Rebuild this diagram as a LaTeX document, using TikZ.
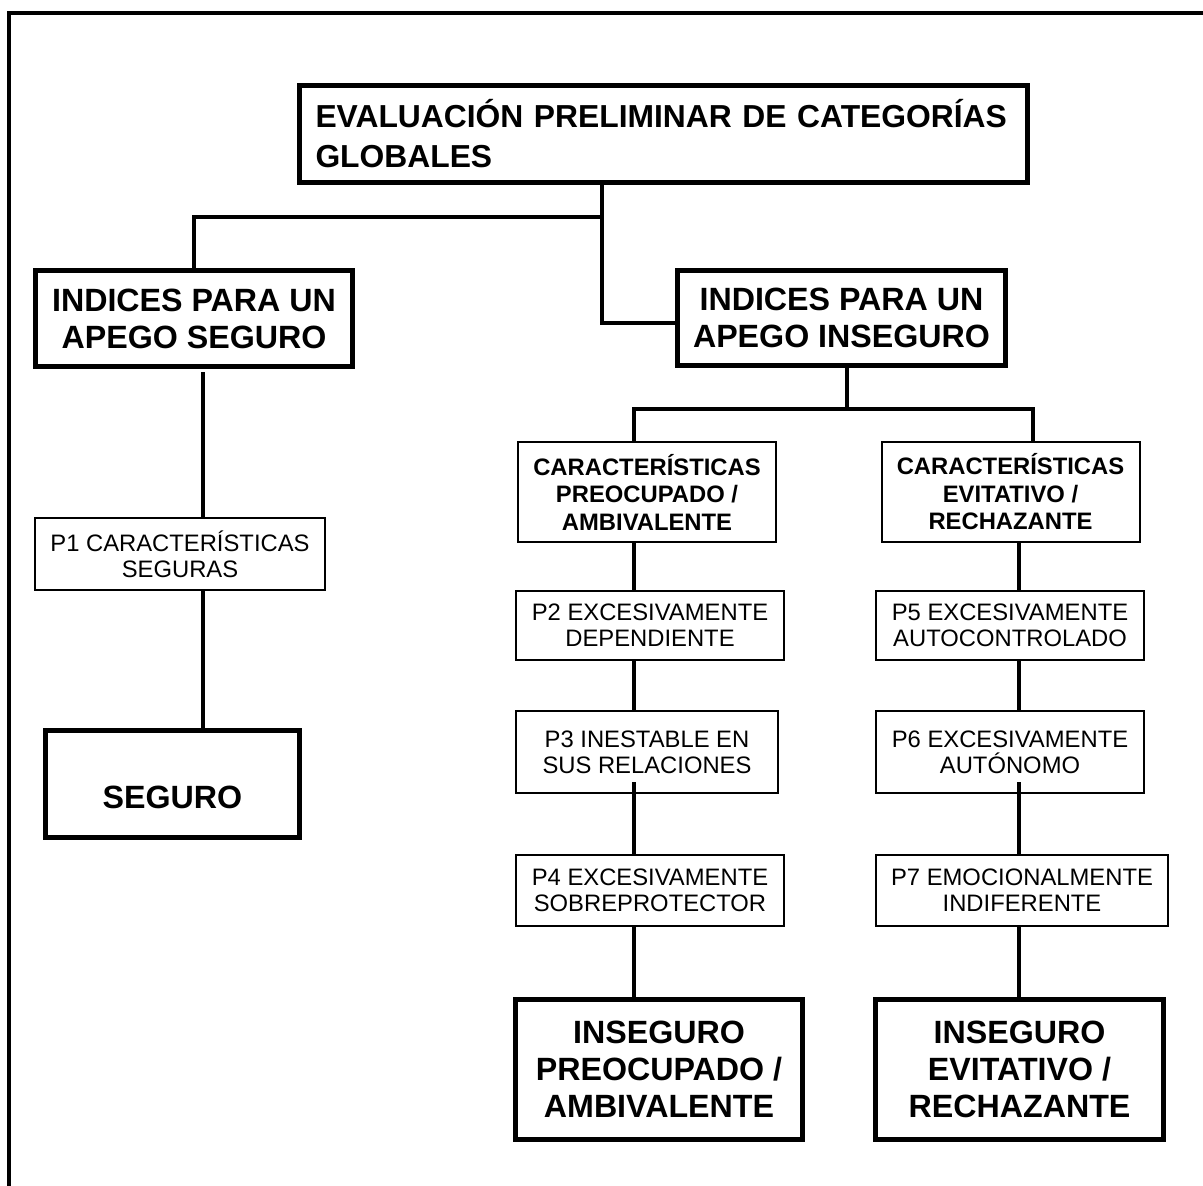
\documentclass[tikz,border=0pt]{standalone}
\usepackage{fontspec}
\setmainfont{Liberation Sans}
\usepackage{tikz}
\newcommand{\bigboxfont}{\bfseries\fontsize{16.1}{18.5}\selectfont}
\newcommand{\midboxfont}{\bfseries\fontsize{11.9}{13.75}\selectfont}
\newcommand{\smallboxfont}{\fontsize{11.9}{13}\selectfont}
\tikzset{
    every node/.style={rectangle, draw, inner sep=0pt, outer sep=0pt, align=center}
}
\tikzset{
    heavy/.style={line width=2.5pt, font=\bigboxfont},
    medium/.style={line width=1pt, font=\midboxfont},
    light/.style={line width=1pt, font=\smallboxfont}
}

\begin{document}
\begin{tikzpicture}[x=0.5pt, y=-0.5pt, line width=2pt]
	\useasboundingbox (0,0) rectangle (1203,1186);
	\draw (9,1186) -- (9,12.7) -- (1203,12.7);

	\node (top) [heavy, minimum height=48.5pt, text width=348pt, inner xsep=8pt, align=left,
		font=\bfseries\fontsize{15.9}{20}\selectfont] at (663.5, 134) {EVALUACIÓN PRELIMINAR DE CATEGORÍAS\\GLOBALES};
	\node (idxS) [heavy, minimum width=158.5pt, minimum height=48pt] at (194, 318.5) {INDICES PARA UN\\APEGO SEGURO};
	\node (idxI) [heavy, minimum width=164pt, minimum height=47.5pt] at (841.5, 318) {INDICES PARA UN\\APEGO INSEGURO};
	\node (carL) [medium, minimum width=129pt, minimum height=50pt] at (647, 492) {CARACTERÍSTICAS\\PREOCUPADO /\\AMBIVALENTE};
	\node (carR) [medium, minimum width=129pt, minimum height=50pt] at (1010.5, 492) {CARACTERÍSTICAS\\EVITATIVO /\\RECHAZANTE};
	\node (p1) [light, minimum width=145pt, minimum height=36pt] at (180, 554) {P1 CARACTERÍSTICAS\\SEGURAS};
	\node (p2) [light, minimum width=134pt, minimum height=34.5pt] at (650, 625.5) {P2 EXCESIVAMENTE\\DEPENDIENTE};
	\node (p3) [light, minimum width=131pt, minimum height=41pt] at (647, 752) {P3 INESTABLE EN\\SUS RELACIONES};
	\node (p4) [light, minimum width=134pt, minimum height=35.5pt] at (650, 890.5) {P4 EXCESIVAMENTE\\SOBREPROTECTOR};
	\node (p5) [light, minimum width=134pt, minimum height=34.5pt] at (1010, 625.5) {P5 EXCESIVAMENTE\\AUTOCONTROLADO};
	\node (p6) [light, minimum width=134pt, minimum height=41pt] at (1010, 752) {P6 EXCESIVAMENTE\\AUTÓNOMO};
	\node (p7) [light, minimum width=146pt, minimum height=35.5pt] at (1022, 890.5) {P7 EMOCIONALMENTE\\INDIFERENTE};
	\node (seg) [heavy, minimum width=127pt, minimum height=53.5pt] at (172.5, 784) {\raisebox{-6.5pt}[\height][\depth]{SEGURO}};
	\node (botL) [heavy, minimum width=143.5pt, minimum height=70pt] at (659, 1069.5) {INSEGURO\\PREOCUPADO /\\AMBIVALENTE};
	\node (botR) [heavy, minimum width=144pt, minimum height=70pt] at (1019.5, 1069.5) {INSEGURO\\EVITATIVO /\\RECHAZANTE};

	\coordinate (split) at (602, 217); \coordinate (elbow) at (602, 323);
	\coordinate (fork) at (847, 409);
	\coordinate (colS) at (203, 0); \coordinate (colL) at (634, 0);
	\coordinate (colR) at (1019, 0); \coordinate (forkR) at (1033, 0);

	\draw (top.south -| split) -- (elbow) -- (elbow -| idxI.west);
	\draw (split) -| (idxS.north);
	\draw (idxI.south -| fork) -- (fork);
	\draw (carL.north -| colL) |- (fork) -| (carR.north -| forkR);

	\draw [shorten <=3pt] (idxS.south -| colS) edge (p1.north -| colS);
	\draw (p1.south -| colS) edge (seg.north -| colS);

	\draw (carL.south -| colL) edge (p2.north -| colL); \draw (p2.south -| colL) edge (p3.north -| colL);
	\draw [shorten <=-5.5pt] (p3.south -| colL) edge (p4.north -| colL); \draw (p4.south -| colL) edge (botL.north -| colL);
	\draw (carR.south -| colR) edge (p5.north -| colR); \draw (p5.south -| colR) edge (p6.north -| colR);
	\draw [shorten <=-5.5pt] (p6.south -| colR) edge (p7.north -| colR); \draw (p7.south -| colR) edge (botR.north -| colR);
\end{tikzpicture}
\end{document}
